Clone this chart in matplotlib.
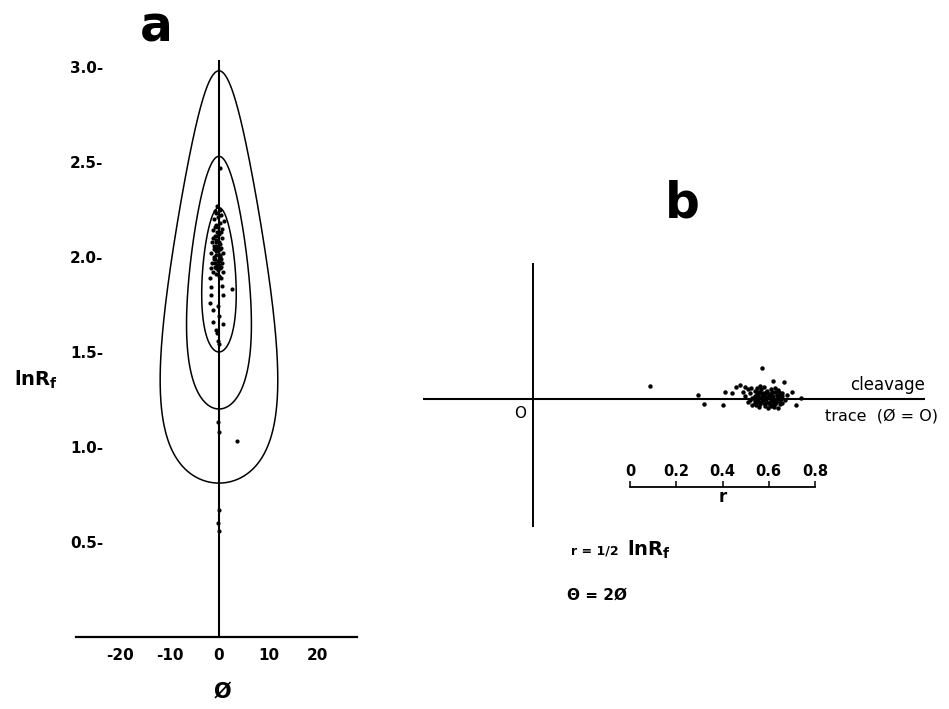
import matplotlib.pyplot as plt
import numpy as np

plt.rcParams['axes.unicode_minus'] = False
plt.rcParams['font.family'] = ['DejaVu Sans']

# panel a: measured grains (phi in degrees, ln Rf)
phi_a = [-0.3, 0.2, -0.8, 0.5, -0.2, 1.0, -1.0, 0.3, -0.5, 0.6, -1.2, -0.3, 0.1,
         -0.9, 0.7, -0.5, -1.4, 0.2, -0.7, 0.5, -1.1, -0.2, 0.9, -1.6, -0.6, 0.3,
         -1.0, 0.0, -1.4, 0.6, -0.4, -0.9, 0.3, -1.7, -0.2, 0.8, -1.2, -0.6, 0.1,
         -0.6, -0.1, -0.9, 0.4, -0.4, -1.2, 0.0, -0.7, 0.3, -0.3, -1.0, 0.2, -0.5,
         -0.8, 0.5, -0.2, -1.1, 0.1, -0.5, -0.9, 0.4,
         -1.8, 0.5, -1.6, 0.7, 2.7, -1.6, 0.9, -1.9, -0.2, -1.3, 0.1, -1.3, 0.9,
         -0.7, -0.3, -0.2, 0.0, 0.3, -0.1, 0.0, 3.7, 0.1, -0.1, 0.0]
lnrf_a = [2.27, 2.25, 2.24, 2.22, 2.21, 2.19, 2.20, 2.18, 2.17, 2.15, 2.14, 2.13, 2.12,
          2.11, 2.10, 2.09, 2.08, 2.07, 2.06, 2.05, 2.04, 2.03, 2.02, 2.02, 2.01, 2.00,
          1.99, 1.98, 1.97, 1.97, 1.96, 1.95, 1.94, 1.94, 1.93, 1.92, 1.92, 1.91, 1.90,
          2.23, 2.16, 2.16, 2.13, 2.11, 2.10, 2.08, 2.08, 2.04, 2.05, 2.06, 2.01, 2.03,
          1.99, 1.99, 1.98, 2.00, 1.96, 1.94, 1.97, 1.95,
          1.89, 1.89, 1.84, 1.85, 1.83, 1.80, 1.80, 1.76, 1.74, 1.72, 1.69, 1.66, 1.645,
          1.615, 1.60, 1.56, 1.54, 2.47, 1.13, 1.08, 1.03, 0.67, 0.60, 0.56]

# theoretical Rf/phi curves: lowest and highest ln Rf of each loop
curve_min = [0.81, 1.20, 1.50]
curve_max = [2.98, 2.53, 2.26]

# panel b: polar plot, r = 1/2 lnRf, theta = 2 phi (degrees)
r_b = [0.51, 0.716, 0.74, 0.824, 0.83, 0.86, 0.88, 0.90, 0.92, 0.947, 0.986, 1.00,
       1.04, 1.09, 1.05, 1.08, 1.12, 1.14, 1.16,
       0.92, 0.93, 0.94, 0.95, 0.95, 0.96, 0.96, 0.97, 0.97, 0.98, 0.98, 0.99, 0.99,
       1.00, 1.00, 1.01, 1.01, 1.02, 1.02, 1.03, 1.03, 1.04, 1.04, 1.05, 1.05, 1.06,
       1.06, 1.07, 1.07, 1.08, 1.09, 1.10, 0.94, 0.97, 1.00, 1.02, 0.99, 1.01, 1.03,
       1.05, 0.96, 1.08, 0.91, 0.93, 1.06,
       0.955, 0.965, 0.975, 0.985, 0.995, 1.005, 1.015, 1.025, 1.035, 1.045, 1.055,
       1.065, 0.96, 0.98, 1.00, 1.02, 1.04, 1.06, 0.97, 0.99, 1.01, 1.03, 1.05,
       0.985, 1.005, 1.025, 1.045, 0.975, 1.015, 1.035, 1.065, 1.075]
theta_b = [6.4, 1.4, -1.8, -1.8, 2.2, 1.6, 3.5, 4.0, 3.3, 2.8, 3.3, 7.6,
           4.3, 3.9, 2.7, 1.5, 1.5, -1.3, 0.2,
           0.8, -0.9, 1.6, 0.2, -1.5, 2.2, 0.9, -0.5, 1.4, -1.9, 0.3, 2.4, 1.0,
           -1.1, 0.5, 1.8, -0.2, -2.1, 1.2, 0.1, 2.5, -1.4, 0.8, 1.7, -0.6, -2.0,
           0.4, 1.3, -1.2, 0.6, -0.3, 1.0, -0.2, 2.8, 2.9, -0.9, -0.6, 0.6, -1.6,
           0.0, -1.0, -0.9, 2.0, 2.6, 2.2,
           0.4, -1.6, 1.9, -1.3, 1.5, -1.7, 2.0, -1.4, 1.6, -1.9, 1.0,
           -0.4, -0.5, -0.8, 1.3, 0.5, -0.5, 1.8, 0.2, 0.4, -1.0, 0.9, -1.2,
           1.8, -0.4, -0.6, -0.9, 1.1, 1.4, -0.2, 0.8, 0.0]

scale_ticks = [0, 0.2, 0.4, 0.6, 0.8]
a_yticks = [0.5, 1.0, 1.5, 2.0, 2.5, 3.0]
a_xticks = [-20, -10, 0, 10, 20]


def rf_phi_loop(ln_min, ln_max, n=721):
    ln_rs = 0.5 * (ln_max + ln_min)
    ln_ri = 0.5 * (ln_max - ln_min)
    rs, ri = np.exp(ln_rs), np.exp(ln_ri)
    F = np.diag([np.sqrt(rs), 1 / np.sqrt(rs)])
    phis, lnrf = [], []
    for t in np.linspace(0, np.pi, n):
        R = np.array([[np.cos(t), -np.sin(t)], [np.sin(t), np.cos(t)]])
        B = F @ R @ np.diag([ri, 1 / ri]) @ R.T @ F.T
        w, v = np.linalg.eigh(B)
        lnrf.append(0.5 * np.log(w[1] / w[0]))
        phis.append(np.degrees(np.arctan(v[1, 1] / v[0, 1])))
    return np.array(phis), np.array(lnrf)


W, H = 949, 709
fig = plt.figure(figsize=(W / 100, H / 100), dpi=100)


def fx(px):
    return px / W


def fy(py):
    return 1 - py / H


# ---- panel a ----
ax_a = fig.add_axes([fx(76), fy(637), 281 / W, 190 * 3.05 / H])
ax_a.set_xlim(-28.9, 27.9)
ax_a.set_ylim(0, 3.05)
for s in ['top', 'right', 'left']:
    ax_a.spines[s].set_visible(False)
ax_a.spines['bottom'].set_linewidth(1.6)

for lo, hi in zip(curve_min, curve_max):
    px, py = rf_phi_loop(lo, hi)
    ax_a.plot(px, py, color='black', lw=1.1)
ax_a.axvline(0, ymax=3.03 / 3.05, color='black', lw=1.5)
ax_a.plot(phi_a, lnrf_a, 'o', color='black', ms=3.0, mew=0)

ax_a.set_xticks(a_xticks)
ax_a.set_xticklabels([str(v) for v in a_xticks], fontweight='bold', fontsize=11)
ax_a.tick_params(axis='x', length=0, pad=8)
ax_a.set_yticks(a_yticks)
ax_a.set_yticklabels(['%.1f-' % v for v in a_yticks], fontweight='bold', fontsize=11)
ax_a.tick_params(axis='y', length=0, pad=-19.5)

fig.text(fx(156), fy(42), 'a', ha='center', va='baseline', fontsize=35, fontweight='bold')
fig.text(fx(14), fy(380), r'lnR$_\mathbf{f}$', ha='left', va='center', fontsize=14, fontweight='bold')
fig.text(fx(222), fy(692), 'Ø', ha='center', va='center', fontsize=15, fontweight='bold')

# ---- panel b ----
ax_b = fig.add_axes([fx(423), fy(527), 502 / W, 264 / H])
ax_b.set_xlim(-0.476, 1.697)
ax_b.set_ylim(-0.554, 0.589)
ax_b.axis('off')
ax_b.axhline(0, color='black', lw=1.5)
ax_b.axvline(0, color='black', lw=1.4)
t = np.radians(theta_b)
ax_b.plot(np.array(r_b) * np.cos(t), np.array(r_b) * np.sin(t), 'o', color='black', ms=3.2, mew=0)

fig.text(fx(682), fy(218), 'b', ha='center', va='baseline', fontsize=35, fontweight='bold')
fig.text(fx(520), fy(413), 'O', ha='center', va='center', fontsize=11)
fig.text(fx(850), fy(385), 'cleavage', ha='left', va='center', fontsize=12)
fig.text(fx(825), fy(416), 'trace  (Ø = O)', ha='left', va='center', fontsize=11.5)

# scale bar for r
ax_s = fig.add_axes([fx(630), fy(487), 185 / W, 0.001])
ax_s.set_xlim(0, 0.8)
ax_s.set_yticks([])
for s in ['top', 'right', 'left']:
    ax_s.spines[s].set_visible(False)
ax_s.spines['bottom'].set_linewidth(1.3)
ax_s.set_xticks(scale_ticks)
ax_s.set_xticklabels([('%g' % v) for v in scale_ticks], fontweight='bold', fontsize=10.5)
ax_s.tick_params(axis='x', direction='in', length=4, width=1.1, bottom=True, top=False,
                 labelbottom=False, labeltop=True, pad=5)
ax_s.set_xlabel('r', fontsize=12, fontweight='bold', labelpad=1)

fig.text(fx(571), fy(551), 'r = 1/2', ha='left', va='center', fontsize=9, fontweight='bold')
fig.text(fx(627), fy(550), r'lnR$_\mathbf{f}$', ha='left', va='center', fontsize=14, fontweight='bold')
fig.text(fx(567), fy(595), 'Θ = 2Ø', ha='left', va='center', fontsize=11, fontweight='bold')

fig.savefig('out.png', dpi=100)
